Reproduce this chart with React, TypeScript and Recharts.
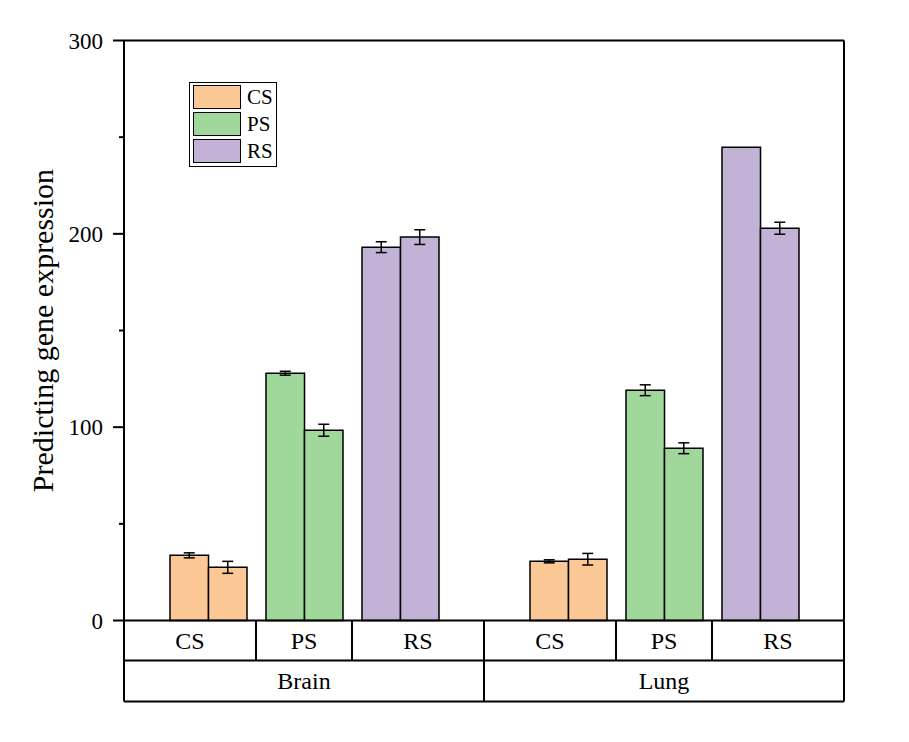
import { BarChart, Bar, XAxis, YAxis, ErrorBar, Cell, Legend, Label } from 'recharts';

// bar centres on the numeric x axis (Brain: 1..3, Lung: 4.75..6.75)
const positions = [1, 2, 3, 4.75, 5.75, 6.75];
const conditions = ['CS', 'PS', 'RS', 'CS', 'PS', 'RS'];
const firstValues = [33.7, 127.9, 193.1, 30.6, 119.1, 244.8];
const firstErrors = [1.3, 1, 2.8, 0.8, 2.8, 0];
const secondValues = [27.5, 98.4, 198.3, 31.7, 89.1, 202.9];
const secondErrors = [3.1, 3.1, 3.8, 3, 2.8, 3.1];

// table under the axis
const tissues = ['Brain', 'Lung'];
const cellEdges = [0.125, 1.5, 2.5, 3.875, 5.25, 6.25, 7.625];
const tissueEdges = [0.125, 3.875, 7.625];
const yTicks = [0, 50, 100, 150, 200, 250, 300];

const legendItems = ['CS', 'PS', 'RS'];
const colors: Record<string, string> = {
    CS: '#FCC896',
    PS: '#A0D89C',
    RS: '#C1B2D6',
};

const FONT = '"Times New Roman", "Liberation Serif", serif';
const ROW1 = 40;
const ROW2 = 41;

const data = positions.map((x, i) => ({
    x,
    condition: conditions[i],
    first: firstValues[i],
    firstErr: firstErrors[i],
    second: secondValues[i],
    secondErr: secondErrors[i],
}));

const midpoints = (edges: number[]) => edges.slice(1).map((e, i) => (e + edges[i]) / 2);
const cellCenters = midpoints(cellEdges);
const tissueCenters = midpoints(tissueEdges);
const xDomain: [number, number] = [cellEdges[0], cellEdges[cellEdges.length - 1]];
const tableTicks = [...cellEdges, ...cellCenters].sort((a, b) => a - b);

const axisLine = { stroke: '#000', strokeWidth: 2 };

const YTick = (props: any) => {
    const { x, y, payload } = props;
    const major = payload.value % 100 === 0;
    return (
        <g>
            <line x1={x + (major ? 10 : 16)} x2={x + 21} y1={y} y2={y} stroke="#000" strokeWidth={2} />
            {major && (
                <text x={x} y={y} dy="0.35em" textAnchor="end" fontSize={23} fontFamily={FONT} fill="#000">
                    {payload.value}
                </text>
            )}
        </g>
    );
};

// edges draw the cell borders, centres draw the labels (both rows)
const TableTick = (props: any) => {
    const { x, y, payload } = props;
    const v = payload.value;
    if (cellEdges.includes(v)) {
        const bottom = tissueEdges.includes(v) ? y + ROW1 + ROW2 : y + ROW1;
        return <line x1={x} x2={x} y1={y} y2={bottom} stroke="#000" strokeWidth={2} />;
    }
    const cell = cellCenters.indexOf(v);
    const tissue = tissueCenters.indexOf(v);
    return (
        <g>
            <text x={x} y={y + ROW1 / 2} dy="0.35em" textAnchor="middle" fontSize={24} fontFamily={FONT} fill="#000">
                {conditions[cell]}
            </text>
            {tissue >= 0 && (
                <text
                    x={x}
                    y={y + ROW1 + ROW2 / 2}
                    dy="0.35em"
                    textAnchor="middle"
                    fontSize={24}
                    fontFamily={FONT}
                    fill="#000"
                >
                    {tissues[tissue]}
                </text>
            )}
        </g>
    );
};

const LegendBox = () => (
    <div
        style={{
            boxSizing: 'border-box',
            width: 88,
            height: 85,
            border: '1.5px solid #000',
            padding: '2.2px 0 0 2.5px',
            background: '#fff',
        }}
    >
        {legendItems.map((name) => (
            <div key={name} style={{ display: 'flex', alignItems: 'center', height: 23.5, marginBottom: 3.5 }}>
                <span
                    style={{
                        boxSizing: 'border-box',
                        display: 'inline-block',
                        width: 48.5,
                        height: 23.5,
                        background: colors[name],
                        border: '1.5px solid #000',
                    }}
                />
                <span style={{ marginLeft: 6, fontSize: 21, fontFamily: FONT, color: '#000', lineHeight: 1 }}>
                    {name}
                </span>
            </div>
        ))}
    </div>
);

const YLabel = (props: any) => {
    const { viewBox } = props;
    const cy = viewBox.y + viewBox.height / 2;
    return (
        <text
            x={45}
            y={cy}
            transform={`rotate(-90, 45, ${cy})`}
            textAnchor="middle"
            fontSize={30}
            fontFamily={FONT}
            fill="#000"
        >
            Predicting gene expression
        </text>
    );
};

export default function App() {
    return (
        <div style={{ width: 901, height: 734 }}>
            <BarChart
                width={901}
                height={734}
                data={data}
                barGap={0}
                margin={{ top: 31.5, right: 64, bottom: 39.5, left: 0 }}
            >
                {/* zero line, labels and cell borders */}
                <XAxis
                    xAxisId="a_cat"
                    dataKey="x"
                    type="number"
                    domain={xDomain}
                    allowDataOverflow
                    ticks={tableTicks}
                    interval={0}
                    height={ROW1}
                    tickSize={0}
                    tickMargin={0}
                    axisLine={axisLine}
                    tickLine={false}
                    tick={<TableTick />}
                />
                {/* line between the two table rows */}
                <XAxis
                    xAxisId="b_row"
                    type="number"
                    domain={xDomain}
                    allowDataOverflow
                    height={ROW2}
                    axisLine={axisLine}
                    tickLine={false}
                    tick={false}
                />
                {/* bottom line of the table */}
                <XAxis
                    xAxisId="c_bottom"
                    type="number"
                    domain={xDomain}
                    allowDataOverflow
                    height={1}
                    axisLine={axisLine}
                    tickLine={false}
                    tick={false}
                />
                <XAxis
                    xAxisId="d_top"
                    orientation="top"
                    type="number"
                    domain={xDomain}
                    allowDataOverflow
                    height={1}
                    axisLine={axisLine}
                    tickLine={false}
                    tick={false}
                />
                <YAxis
                    type="number"
                    domain={[0, 300]}
                    ticks={yTicks}
                    interval={0}
                    width={116}
                    tickSize={11}
                    tickMargin={10}
                    axisLine={axisLine}
                    tickLine={false}
                    tick={<YTick />}
                >
                    <Label content={<YLabel />} />
                </YAxis>
                <YAxis
                    yAxisId="right"
                    orientation="right"
                    type="number"
                    domain={[0, 300]}
                    width={1}
                    axisLine={axisLine}
                    tickLine={false}
                    tick={false}
                />
                <Legend
                    layout="vertical"
                    align="center"
                    verticalAlign="middle"
                    content={<LegendBox />}
                    wrapperStyle={{ left: 181, top: 74.3, width: 'auto' }}
                />
                <Bar
                    xAxisId="a_cat"
                    dataKey="first"
                    barSize={38.5}
                    stroke="#000"
                    strokeWidth={1.5}
                    isAnimationActive={false}
                >
                    {data.map((d, i) => (
                        <Cell key={i} fill={colors[d.condition]} />
                    ))}
                    <ErrorBar dataKey="firstErr" width={5.5} stroke="#000" strokeWidth={1.5} isAnimationActive={false} />
                </Bar>
                <Bar
                    xAxisId="a_cat"
                    dataKey="second"
                    barSize={38.5}
                    stroke="#000"
                    strokeWidth={1.5}
                    isAnimationActive={false}
                >
                    {data.map((d, i) => (
                        <Cell key={i} fill={colors[d.condition]} />
                    ))}
                    <ErrorBar dataKey="secondErr" width={5.5} stroke="#000" strokeWidth={1.5} isAnimationActive={false} />
                </Bar>
            </BarChart>
        </div>
    );
}
